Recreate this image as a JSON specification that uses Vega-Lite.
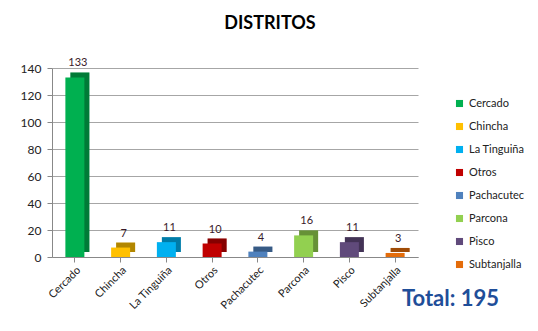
{
  "$schema": "https://vega.github.io/schema/vega-lite/v6.json",
  "width": 366,
  "height": 189,
  "autosize": {"type": "none"},
  "padding": {"left": 52, "top": 68, "right": 120, "bottom": 74},
  "background": "white",
  "title": {"text": "DISTRITOS", "font": "Lato", "fontSize": 18, "fontWeight": "bold", "color": "#000", "offset": 24, "anchor": "middle", "dx": 35},
  "data": {"values": [
    {"distrito": "Cercado", "n": 133},
    {"distrito": "Chincha", "n": 7},
    {"distrito": "La Tinguiña", "n": 11},
    {"distrito": "Otros", "n": 10},
    {"distrito": "Pachacutec", "n": 4},
    {"distrito": "Parcona", "n": 16},
    {"distrito": "Pisco", "n": 11},
    {"distrito": "Subtanjalla", "n": 3}
  ]},
  "encoding": {
    "x": {"field": "distrito", "type": "nominal", "sort": null,
      "axis": {"labelAngle": -45, "labelFont": "Lato", "labelFontSize": 11, "labelColor": "#222", "domainColor": "#888", "tickColor": "#888",
        "title": "Total: 195", "titleFont": "Lato", "titleFontSize": 22, "titleFontWeight": "bold", "titleColor": "#1F4E99",
        "titleAnchor": "start", "titleAlign": "center", "titleBaseline": "middle", "titleX": 398, "titleY": 41}},
    "y": {"field": "n", "type": "quantitative", "scale": {"domain": [0, 140]},
      "axis": {"values": [0,20,40,60,80,100,120,140], "title": null, "labelFont": "Lato", "labelFontSize": 12, "labelColor": "#222", "domainColor": "#888", "tickColor": "#888", "gridColor": "#a6a6a6", "labelPadding": 6}}
  },
  "layer": [
    {"mark": {"type": "bar", "size": 19, "xOffset": 5, "yOffset": -5},
     "encoding": {"color": {"field": "distrito", "type": "nominal", "sort": null,
        "scale": {"domain": ["Cercado","Chincha","La Tinguiña","Otros","Pachacutec","Parcona","Pisco","Subtanjalla"],
                  "range": ["#00B050","#FFC000","#00B0F0","#C00000","#4F81BD","#92D050","#604A7B","#E46C0A"]},
        "legend": {"title": null, "orient": "none", "legendX": 402, "legendY": 30, "symbolType": "square", "symbolSize": 50, "labelFont": "Lato", "labelFontSize": 11, "labelColor": "#222", "rowPadding": 11, "symbolStrokeWidth": 0}}}},
    {"mark": {"type": "bar", "size": 19, "xOffset": 5, "yOffset": -5, "color": "#000", "opacity": 0.3}, "encoding": {}},
    {"mark": {"type": "bar", "size": 19},
     "encoding": {"color": {"field": "distrito", "type": "nominal", "sort": null}}},
    {"mark": {"type": "text", "font": "Lato", "fontSize": 11, "color": "#3a1a2a", "dy": -14, "dx": 3},
     "encoding": {"text": {"field": "n", "type": "quantitative"}}}
  ],
  "config": {"view": {"stroke": null}}
}
